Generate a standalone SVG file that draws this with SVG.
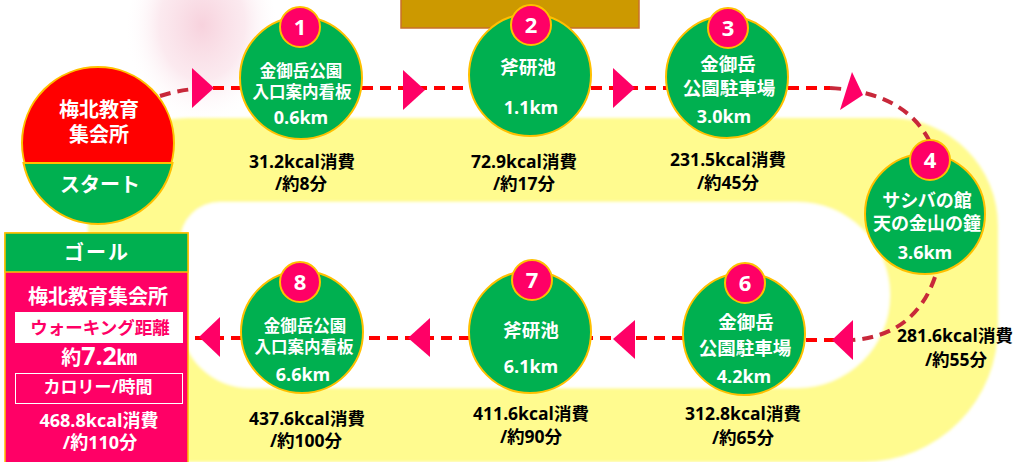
<svg xmlns="http://www.w3.org/2000/svg" width="1020" height="462" viewBox="0 0 1020 462">
<defs>
<style>
text{font-family:"Open Sans","Noto Sans CJK JP",sans-serif;font-weight:bold;text-anchor:middle}
.w{fill:#FFFFFF}
.k{fill:#000000;font-size:17.5px}
.jp17{font-size:16.5px}
.jp19{font-size:18.5px}
.km{font-size:18px}
.num{font-size:22px;fill:#FFFFFF}
.node{fill:#00B050;stroke:#FFC000;stroke-width:2}
.badge{fill:#FF0066;stroke:#FFC000;stroke-width:2}
.dash{fill:none;stroke:#FF0000;stroke-width:4;stroke-dasharray:11 7}
.dashd{fill:none;stroke:#C8283A;stroke-width:4;stroke-dasharray:11 7}
.arrow{fill:#FF0066}
</style>
<radialGradient id="blob" cx="0.5" cy="0.4" r="0.5">
<stop offset="0" stop-color="#F6CAD7" stop-opacity="0.85"/>
<stop offset="0.55" stop-color="#F9DCE5" stop-opacity="0.6"/>
<stop offset="1" stop-color="#FFFFFF" stop-opacity="0"/>
</radialGradient>
<filter id="soft" x="-5%" y="-5%" width="110%" height="110%"><feGaussianBlur stdDeviation="1.5"/></filter>
</defs>
<g id="background">
<ellipse cx="202" cy="45" rx="78" ry="100" fill="url(#blob)"/>
<rect x="401" y="-5" width="238" height="33" fill="#CC9900" stroke="#C8702A" stroke-width="1.5"/>
<g filter="url(#soft)">
<path d="M190,118 H890 A108,108 0 0 1 998,226 V325 A135,135 0 0 1 863,462 H88 V220 A100,102 0 0 1 190,118 Z" fill="#FFFB8F"/>
<path d="M220,202 H797 A93,93 0 0 1 797,388 H250 A70,70 0 0 1 180,318 V242 A40,40 0 0 1 220,202 Z" fill="#FFFFFF"/>
</g>
</g>
<g id="connectors">
<path class="dashd" d="M160,96 Q185,88 213,88"/>
<path class="dash" d="M213,88 H240"/>
<path class="dash" d="M362,88 H469"/>
<path class="dash" d="M591,88 H667"/>
<path class="dash" d="M788,88 H830"/>
<path class="dashd" d="M830,88 Q905,92 930,142"/>
<path class="dashd" d="M935,277 Q915,335 853,340"/>
<path class="dash" d="M853,340 H806"/>
<path class="dash" d="M683,338 H591"/>
<path class="dash" d="M470,338 H362"/>
<path class="dash" d="M242,338 H190"/>
<polygon class="arrow" points="192,68 214,88 192,108"/>
<polygon class="arrow" points="403,70 425,90 403,110"/>
<polygon class="arrow" points="613,68 635,88 613,108"/>
<polygon class="arrow" points="852,72 863,95 840,110"/>
<polygon class="arrow" points="853,320 832,340 853,360"/>
<polygon class="arrow" points="635,320 613,339 635,359"/>
<polygon class="arrow" points="430,318 408,338 430,357"/>
<polygon class="arrow" points="220,317 199,337 220,357"/>
</g>
<g id="start">
<circle cx="98" cy="143" r="76" fill="#FF0000" stroke="#FFC000" stroke-width="2"/>
<path d="M23.5,163 H172.5 A76,76 0 0 1 23.5,163 Z" fill="#00B050" stroke="#FFC000" stroke-width="2"/>
<text class="w" x="99" y="117" font-size="20">梅北教育</text>
<text class="w" x="99" y="142" font-size="20">集会所</text>
<text class="w" x="100" y="192" font-size="20">スタート</text>
</g>
<g id="node1">
<circle class="node" cx="301" cy="78" r="61"/>
<circle class="badge" cx="300" cy="27" r="20"/>
<text class="num" x="300" y="35">1</text>
<text class="w jp17" x="301" y="77">金御岳公園</text>
<text class="w jp17" x="302" y="98">入口案内看板</text>
<text class="w km" x="301" y="124">0.6km</text>
<text class="k" x="302" y="168">31.2kcal消費</text>
<text class="k" x="301" y="190">/約8分</text>
</g>
<g id="node2">
<circle class="node" cx="530" cy="75" r="61"/>
<circle class="badge" cx="531" cy="25" r="20"/>
<text class="num" x="531" y="33">2</text>
<text class="w jp19" x="528" y="74">斧研池</text>
<text class="w km" x="531" y="114">1.1km</text>
<text class="k" x="524" y="168">72.9kcal消費</text>
<text class="k" x="524" y="190">/約17分</text>
</g>
<g id="node3">
<circle class="node" cx="727" cy="77" r="61"/>
<circle class="badge" cx="728" cy="28" r="20"/>
<text class="num" x="728" y="36">3</text>
<text class="w jp19" x="728" y="71">金御岳</text>
<text class="w jp19" x="729" y="95">公園駐車場</text>
<text class="w km" x="724" y="123">3.0km</text>
<text class="k" x="728" y="166">231.5kcal消費</text>
<text class="k" x="728" y="189">/約45分</text>
</g>
<g id="node4">
<circle class="node" cx="925" cy="214" r="60"/>
<circle class="badge" cx="930" cy="160" r="20"/>
<text class="num" x="930" y="168">4</text>
<text class="w" x="927" y="207" font-size="18">サシバの館</text>
<text class="w" x="927" y="230" font-size="18">天の金山の鐘</text>
<text class="w km" x="925" y="259">3.6km</text>
<text class="k" x="955" y="342">281.6kcal消費</text>
<text class="k" x="956" y="366">/約55分</text>
</g>
<g id="node6">
<circle class="node" cx="744" cy="334" r="61"/>
<circle class="badge" cx="745" cy="283" r="20"/>
<text class="num" x="745" y="291">6</text>
<text class="w jp19" x="746" y="329">金御岳</text>
<text class="w jp19" x="745" y="355">公園駐車場</text>
<text class="w km" x="744" y="383">4.2km</text>
<text class="k" x="743" y="420">312.8kcal消費</text>
<text class="k" x="743" y="444">/約65分</text>
</g>
<g id="node7">
<circle class="node" cx="530" cy="332" r="61"/>
<circle class="badge" cx="532" cy="280" r="20"/>
<text class="num" x="532" y="288">7</text>
<text class="w jp19" x="531" y="337">斧研池</text>
<text class="w km" x="531" y="373">6.1km</text>
<text class="k" x="531" y="420">411.6kcal消費</text>
<text class="k" x="531" y="443">/約90分</text>
</g>
<g id="node8">
<circle class="node" cx="302" cy="332" r="61"/>
<circle class="badge" cx="300" cy="282" r="20"/>
<text class="num" x="300" y="290">8</text>
<text class="w jp17" x="305" y="332">金御岳公園</text>
<text class="w jp17" x="304" y="353">入口案内看板</text>
<text class="w km" x="303" y="381">6.6km</text>
<text class="k" x="307" y="425">437.6kcal消費</text>
<text class="k" x="306" y="447">/約100分</text>
</g>
<g id="goal">
<rect x="5" y="233" width="183" height="240" fill="#FF0066" stroke="#FFC000" stroke-width="1.5"/>
<rect x="5" y="233" width="183" height="39" fill="#00B050" stroke="#FFC000" stroke-width="1.5"/>
<text class="w" x="97" y="260" font-size="20" letter-spacing="2">ゴール</text>
<text class="w" x="98" y="304" font-size="20">梅北教育集会所</text>
<rect x="15" y="312" width="168" height="31" fill="#FFFFFF"/>
<text x="100" y="334" font-size="17.5" fill="#FF0066">ウォーキング距離</text>
<text class="w" x="99" y="365"><tspan font-size="20">約</tspan><tspan font-size="25">7.2</tspan><tspan font-size="20">㎞</tspan></text>
<rect x="15.5" y="373.5" width="167" height="30" fill="none" stroke="#FFFFFF" stroke-width="1"/>
<text class="w" x="98" y="393" font-size="17">カロリー/時間</text>
<text class="w" x="99" y="427" font-size="18">468.8kcal消費</text>
<text class="w" x="100" y="449" font-size="18">/約110分</text>
</g>
</svg>
